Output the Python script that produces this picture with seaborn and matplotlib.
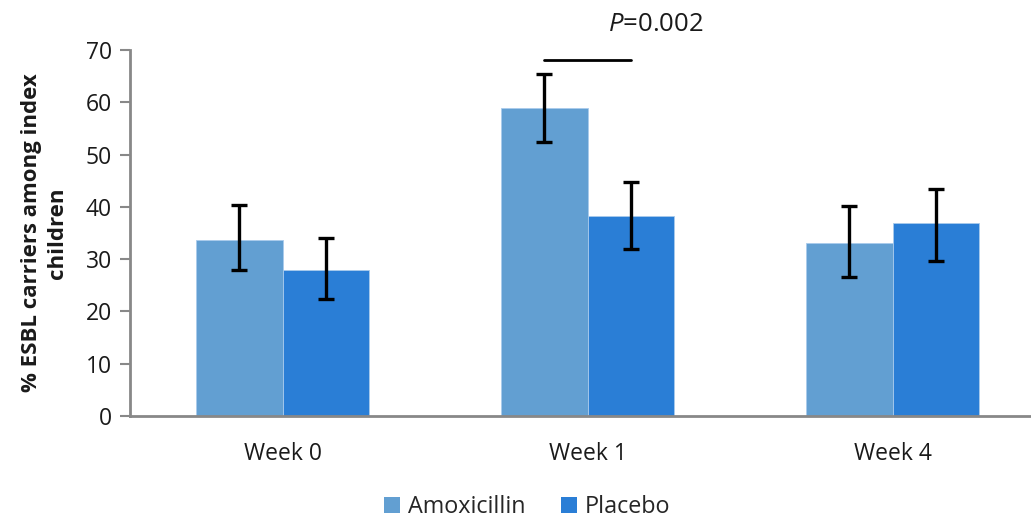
import matplotlib
matplotlib.use("Agg")
import matplotlib.pyplot as plt
import seaborn as sns
import pandas as pd
import numpy as np
from matplotlib.patches import Patch

# Data: % ESBL carriers among index children
weeks = ["Week 0", "Week 1", "Week 4"]
groups = ["Amoxicillin", "Placebo"]
amoxicillin = [33.7, 59.0, 33.0]
placebo = [27.9, 38.2, 36.9]
amox_low = [27.9, 52.4, 26.5]
amox_high = [40.3, 65.5, 40.2]
plac_low = [22.4, 31.9, 29.7]
plac_high = [34.0, 44.8, 43.5]
p_label = "0.002"

colors = ["#629FD2", "#2A7ED6"]

sns.set_theme(style="white")
plt.rcParams["font.family"] = ["Open Sans", "DejaVu Sans"]
plt.rcParams["mathtext.fontset"] = "custom"
plt.rcParams["mathtext.it"] = "Open Sans:italic"
plt.rcParams["mathtext.rm"] = "Open Sans"

df = pd.DataFrame({
    "week": weeks * 2,
    "group": [groups[0]] * 3 + [groups[1]] * 3,
    "value": amoxicillin + placebo,
})

fig = plt.figure(figsize=(10.31, 5.18), dpi=100)
ax = fig.add_axes([130 / 1031, 1 - 416 / 518, 1 - 130 / 1031, (416 - 50) / 518])

sns.barplot(data=df, x="week", y="value", hue="group", order=weeks,
            hue_order=groups, palette=colors, saturation=1, width=0.57, gap=0,
            errorbar=None, edgecolor="#A9CBEC", linewidth=0.6,
            legend=False, ax=ax)

# Asymmetric error bars placed on the bar centres
lows = [amox_low, plac_low]
highs = [amox_high, plac_high]
vals = [amoxicillin, placebo]
n = len(weeks)
centres = {}
for gi in range(2):
    bars = ax.patches[gi * n:(gi + 1) * n]
    for wi, bar in enumerate(bars):
        cx = bar.get_x() + bar.get_width() / 2
        centres[(gi, wi)] = cx
        v = vals[gi][wi]
        ax.errorbar(cx, v, yerr=[[v - lows[gi][wi]], [highs[gi][wi] - v]],
                    fmt="none", ecolor="black", elinewidth=2.4,
                    capsize=5.5, capthick=2.4, zorder=5)

# Significance bar for Week 1
x1, x2 = centres[(0, 1)], centres[(1, 1)]
ax.plot([x1, x2], [68.1, 68.1], color="black", lw=2, clip_on=False)
ax.text(1.225, 74.8, r"$\it{P}$=" + p_label, ha="center", va="center",
        fontsize=18.5, color="#1a1a1a", clip_on=False)

ax.set_ylim(0, 70)
ax.set_xlim(-0.5, 2.454)
ax.set_yticks(np.arange(0, 71, 10))
ax.set_xticks(range(n))
ax.set_xticklabels(weeks)
ax.set_xticks([-0.5, 0.5, 1.5], minor=True)
ax.tick_params(axis="x", which="major", length=0, pad=19, labelsize=16.5,
               labelcolor="#1a1a1a")
ax.tick_params(axis="x", which="minor", length=7, width=1.5, color="#888888",
               direction="out")
ax.tick_params(axis="y", length=7, width=1.5, color="#888888", direction="out",
               labelsize=16.5, labelcolor="#1a1a1a", pad=6, left=True)

for side in ["top", "right"]:
    ax.spines[side].set_visible(False)
for side in ["left", "bottom"]:
    ax.spines[side].set_color("#888888")
    ax.spines[side].set_linewidth(2)

ax.set_xlabel("")
ax.set_ylabel("% ESBL carriers among index\nchildren", fontsize=16,
              fontweight="bold", color="#1a1a1a", linespacing=1.3)
ax.yaxis.set_label_coords(-62 / 901, 0.5)

handles = [Patch(facecolor=c, edgecolor="none") for c in colors]
fig.legend(handles, groups, loc="center", bbox_to_anchor=(527 / 1031, 1 - 507 / 518),
           ncol=2, frameon=False, fontsize=16.8, handlelength=0.7,
           handleheight=0.7, handletextpad=0.35, columnspacing=1.5)

fig.savefig("out.png", dpi=100)
